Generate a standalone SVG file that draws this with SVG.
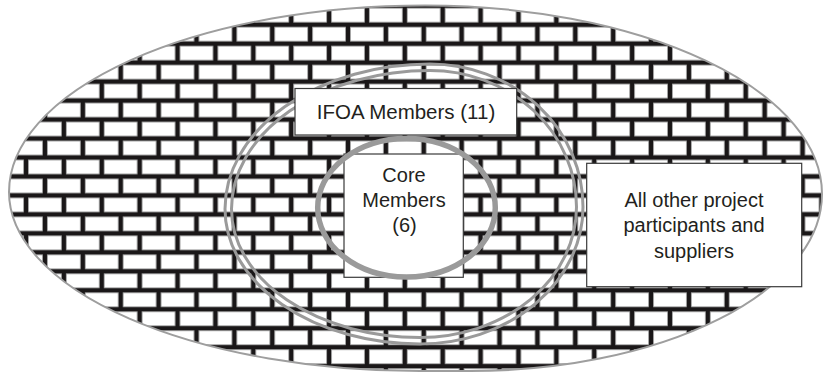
<svg xmlns="http://www.w3.org/2000/svg" width="823" height="377" viewBox="0 0 823 377">
<style>
.b{fill:#ffffff;stroke:#a0a0a0;stroke-width:0.6}
.ring{fill:none;stroke:#9a9a9a}
.box{fill:#ffffff;stroke:#3a3a3a;stroke-width:1.2}
.t{font-family:"Liberation Sans",Arial,sans-serif;font-size:20px;fill:#231f20;text-anchor:middle}
</style>
<defs>
<pattern id="brick" patternUnits="userSpaceOnUse" x="7.08" y="24.7" width="37.88" height="37.94">
<rect width="37.88" height="37.94" fill="#1a1718"/>
<rect class="b" x="2.35" y="2.35" width="33.18" height="14.27"/>
<rect class="b" x="21.29" y="21.32" width="33.18" height="14.27"/>
<rect class="b" x="-16.59" y="21.32" width="33.18" height="14.27"/>
</pattern>
</defs>
<rect width="823" height="377" fill="#ffffff"/>
<g id="all-participants-area">
<path d="M9,192 A416,186.5 0 0 1 425,5.5 A397,188.5 0 0 1 822,194 A352,177 0 0 1 470,371 L420,371 A411,179 0 0 1 9,192 Z" fill="url(#brick)" stroke="#9e9e9e" stroke-width="2"/>
</g>
<g id="ifoa-ring">
<path class="ring" stroke-width="3" d="M225,209 A205,145 0 0 1 430,64 A153,143 0 0 1 583,207 A163,137 0 0 1 420,344 A195,135 0 0 1 225,209 Z"/>
<path class="ring" stroke-width="3" d="M231.5,209 A198.5,138.5 0 0 1 430,70.5 A146.5,136.5 0 0 1 576.5,207 A156.5,130.5 0 0 1 420,337.5 A188.5,128.5 0 0 1 231.5,209 Z"/>
</g>
<g id="ifoa-members">
<rect class="box" x="295" y="88.5" width="221.7" height="46.5"/>
<text class="t" x="406" y="119" style="font-size:20.5px">IFOA Members (11)</text>
</g>
<g id="core-members">
<rect class="box" x="344" y="154" width="119.3" height="123.3"/>
<text class="t" x="404" y="181.7">Core</text>
<text class="t" x="404" y="206.7">Members</text>
<text class="t" x="404.5" y="231.7">(6)</text>
<ellipse class="ring" cx="406.5" cy="207.8" rx="88.8" ry="69.2" stroke-width="5.5"/>
</g>
<g id="other-participants">
<rect class="box" x="586.7" y="163.3" width="215" height="123.4"/>
<text class="t" x="694" y="206.7">All other project</text>
<text class="t" x="694" y="232.3">participants and</text>
<text class="t" x="694" y="257.5">suppliers</text>
</g>
<g id="connectors"></g>
</svg>
